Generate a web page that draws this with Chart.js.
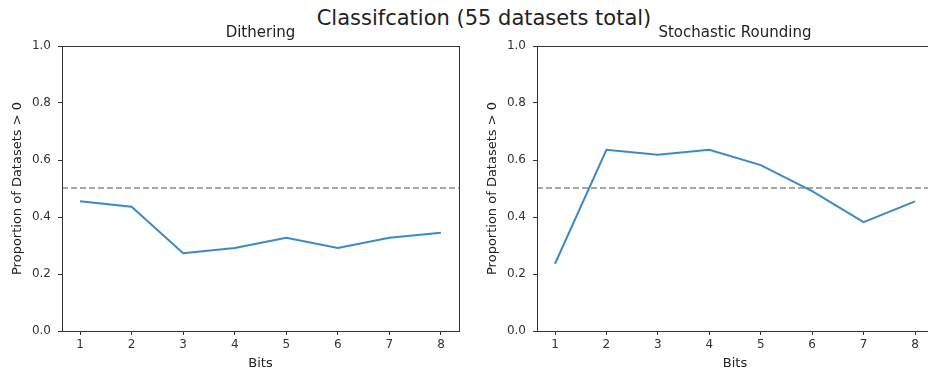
<!DOCTYPE html>
<html>
<head>
<meta charset="utf-8">
<script src="https://cdn.jsdelivr.net/npm/chart.js@4.4.1/dist/chart.umd.min.js"></script>
<style>
  html, body { margin: 0; padding: 0; background: #fff; overflow: hidden; }
  body { width: 928px; height: 371px; position: relative; font-family: "DejaVu Sans", sans-serif; }
  #suptitle { position: absolute; left: 284px; width: 400px; top: 6px; text-align: center;
              font-size: 21px; line-height: 24px; color: #222; }
  .box { position: absolute; top: 0; height: 371px; width: 470px; }
</style>
</head>
<body>
<div id="suptitle">Classifcation (55 datasets total)</div>
<div class="box" style="left:0"><canvas id="ditherChart"></canvas></div>
<div class="box" style="left:470px"><canvas id="stochChart"></canvas></div>
<script>
// Data (proportion of 55 datasets with improvement > 0)
const bits = [1, 2, 3, 4, 5, 6, 7, 8];
const dithering = [0.455, 0.436, 0.273, 0.291, 0.327, 0.291, 0.327, 0.345];
const stochastic = [0.236, 0.636, 0.618, 0.636, 0.582, 0.491, 0.382, 0.455];
const yTicks = [0, 0.2, 0.4, 0.6, 0.8, 1.0];
const threshold = 0.5;

const lineColor = '#3d8ac3';
const inkColor = '#333333';

// Draws the full box frame and the dashed 0.5 reference line
const framePlugin = {
    id: 'frame',
    beforeDatasetsDraw(chart) {
        const ctx = chart.ctx;
        const area = chart.chartArea;
        const y = Math.floor(chart.scales.y.getPixelForValue(threshold));
        ctx.save();
        ctx.strokeStyle = '#a8a8a8';
        ctx.lineWidth = 2;
        ctx.setLineDash([6, 3]);
        ctx.beginPath();
        ctx.moveTo(area.left, y);
        ctx.lineTo(area.right, y);
        ctx.stroke();
        ctx.restore();
    },
    afterDraw(chart) {
        const ctx = chart.ctx;
        const a = chart.chartArea;
        ctx.save();
        ctx.strokeStyle = inkColor;
        ctx.lineWidth = 1;
        ctx.strokeRect(Math.round(a.left) + 0.5, Math.round(a.top) + 0.5,
                       Math.round(a.right - a.left), Math.round(a.bottom - a.top));
        ctx.restore();
    }
};

function makeChart(id, title, values, yWidth, yTitlePad, rightPad) {
    const ctx = document.getElementById(id).getContext('2d');
    return new Chart(ctx, {
        type: 'line',
        data: {
            datasets: [{
                data: bits.map((b, i) => ({ x: b, y: values[i] })),
                borderColor: lineColor,
                borderWidth: 2,
                pointRadius: 0,
                fill: false,
                tension: 0
            }]
        },
        options: {
            responsive: true,
            maintainAspectRatio: false,
            animation: false,
            layout: { padding: { left: 0, right: rightPad, top: 0, bottom: 0 } },
            plugins: {
                legend: { display: false },
                tooltip: { enabled: false },
                title: {
                    display: true,
                    text: title,
                    fullSize: false,
                    color: '#222',
                    font: { family: 'DejaVu Sans', size: 15, weight: 'normal', lineHeight: 1.2 },
                    padding: { top: 24, bottom: 4 }
                }
            },
            scales: {
                x: {
                    type: 'linear',
                    min: 0.65,
                    max: 8.35,
                    afterBuildTicks: s => { s.ticks = bits.map(v => ({ value: v })); },
                    afterFit: s => { s.height = 40; },
                    border: { display: false },
                    grid: { drawOnChartArea: false, drawTicks: true, tickLength: 4, tickColor: inkColor },
                    ticks: { color: inkColor, padding: 3, font: { family: 'DejaVu Sans', size: 12 } },
                    title: { display: true, text: 'Bits', color: '#222', padding: { top: 0, bottom: 0 },
                             font: { family: 'DejaVu Sans', size: 13 } }
                },
                y: {
                    min: 0,
                    max: 1,
                    afterBuildTicks: s => { s.ticks = yTicks.map(v => ({ value: v })); },
                    afterFit: s => { s.width = yWidth; },
                    border: { display: false },
                    grid: { drawOnChartArea: false, drawTicks: true, tickLength: 4, tickColor: inkColor },
                    ticks: { color: inkColor, padding: 7, font: { family: 'DejaVu Sans', size: 12 },
                             callback: v => v.toFixed(1) },
                    title: { display: true, text: 'Proportion of Datasets > 0', color: '#222',
                             padding: { top: yTitlePad, bottom: 0 },
                             font: { family: 'DejaVu Sans', size: 13 } }
                }
            }
        },
        plugins: [framePlugin]
    });
}

const ditherChart = makeChart('ditherChart', 'Dithering', dithering, 62, 10, 11);
const stochChart = makeChart('stochChart', 'Stochastic Rounding', stochastic, 67, 15, 7);
</script>
</body>
</html>
